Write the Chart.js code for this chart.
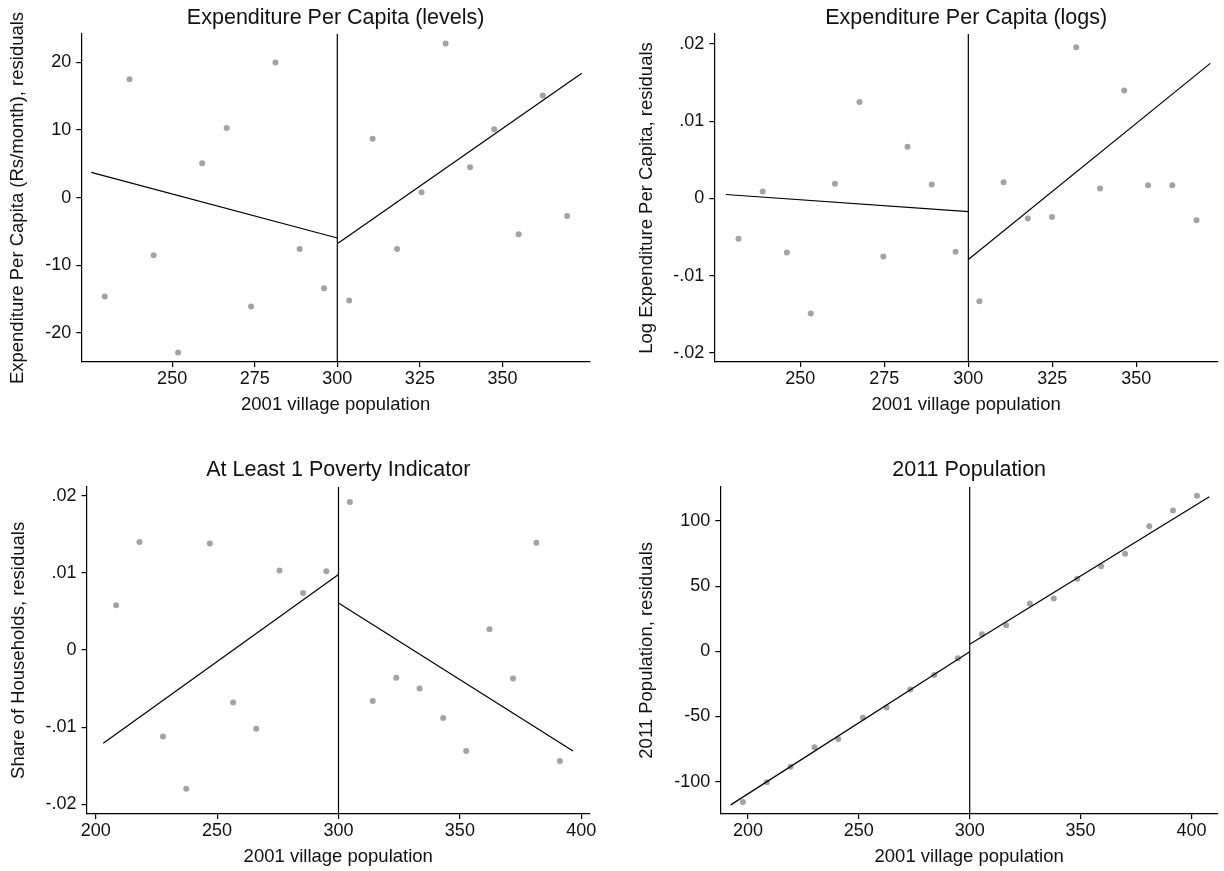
<!DOCTYPE html>
<html>
<head>
<meta charset="utf-8">
<title>RD residual plots</title>
<script src="https://cdn.jsdelivr.net/npm/chart.js@4.4.0/dist/chart.umd.min.js"></script>
<style>
  html, body { margin: 0; padding: 0; background: #fff; }
  #wrap { position: relative; width: 1224px; height: 871px; }
  #wrap canvas { position: absolute; }
</style>
</head>
<body>
<div id="wrap">
  <canvas id="c1" width="612" height="435" style="left:0;top:0"></canvas>
  <canvas id="c2" width="612" height="435" style="left:612px;top:0"></canvas>
  <canvas id="c3" width="612" height="436" style="left:0;top:435px"></canvas>
  <canvas id="c4" width="612" height="436" style="left:612px;top:435px"></canvas>
</div>
<script>
// cutoff of the discontinuity
const CUTOFF = 300;
const X_TITLE = '2001 village population';

// panel 1 - expenditure per capita (levels)
const p1X = [229.6, 237.1, 244.4, 251.8, 259.1, 266.5, 273.9, 281.3, 288.6, 296.0, 303.6, 310.7, 318.1, 325.5, 332.8, 340.2, 347.5, 354.9, 362.2, 369.6];
const p1Y = [-14.6, 17.5, -8.5, -22.9, 5.1, 10.3, -16.1, 20.0, -7.6, -13.4, -15.2, 8.7, -7.6, 0.8, 22.8, 4.5, 10.1, -5.4, 15.1, -2.7];
const p1FitLeftX = [225.5, 300];
const p1FitLeftY = [3.74, -5.96];
const p1FitRightX = [300, 374.0];
const p1FitRightY = [-6.8, 18.4];
const p1XTicks = [250, 275, 300, 325, 350];
const p1YTicks = [-20, -10, 0, 10, 20];
const p1YTickLabels = ['-20', '-10', '0', '10', '20'];
const p1XRange = [222.5, 376.5];
const p1YRange = [-24.3, 24.2];

// panel 2 - expenditure per capita (logs)
const p2X = [231.6, 238.8, 246.0, 253.1, 260.3, 267.6, 274.7, 281.9, 289.1, 296.2, 303.3, 310.5, 317.7, 324.9, 332.1, 339.2, 346.4, 353.5, 360.7, 367.9];
const p2Y = [-0.0052, 0.0009, -0.0070, -0.0149, 0.0019, 0.0125, -0.0075, 0.0067, 0.0018, -0.0069, -0.0133, 0.0021, -0.0026, -0.0024, 0.0196, 0.0013, 0.0140, 0.0017, 0.0017, -0.0028];
const p2FitLeftX = [227.8, 300];
const p2FitLeftY = [0.00052, -0.00169];
const p2FitRightX = [300, 372.0];
const p2FitRightY = [-0.0079, 0.0175];
const p2XTicks = [250, 275, 300, 325, 350];
const p2YTicks = [-0.02, -0.01, 0, 0.01, 0.02];
const p2YTickLabels = ['-.02', '-.01', '0', '.01', '.02'];
const p2XRange = [224.4, 374.3];
const p2YRange = [-0.02117, 0.0213];

// panel 3 - at least 1 poverty indicator
const p3X = [208.4, 218.0, 227.7, 237.3, 247.0, 256.6, 266.1, 275.7, 285.4, 295.0, 304.7, 314.1, 323.8, 333.4, 343.1, 352.6, 362.2, 371.9, 381.5, 391.2];
const p3Y = [0.0058, 0.0140, -0.0112, -0.0180, 0.0138, -0.0068, -0.0102, 0.0103, 0.0074, 0.0102, 0.0192, -0.0066, -0.0036, -0.0050, -0.0088, -0.0131, 0.0027, -0.0037, 0.0139, -0.0144];
const p3FitLeftX = [203.1, 300];
const p3FitLeftY = [-0.0121, 0.0098];
const p3FitRightX = [300, 396.6];
const p3FitRightY = [0.0061, -0.0131];
const p3XTicks = [200, 250, 300, 350, 400];
const p3YTicks = [-0.02, -0.01, 0, 0.01, 0.02];
const p3YTickLabels = ['-.02', '-.01', '0', '.01', '.02'];
const p3XRange = [196.2, 403.6];
const p3YRange = [-0.02126, 0.02117];

// panel 4 - 2011 population
const p4X = [197.7, 208.5, 219.2, 230.0, 240.7, 251.8, 262.5, 273.2, 284.0, 294.7, 305.5, 316.4, 327.1, 337.9, 348.5, 359.3, 370.1, 381.0, 391.7, 402.5];
const p4Y = [-115.5, -100.4, -88.6, -73.5, -67.3, -51.0, -43.0, -29.2, -18.2, -5.4, 13.1, 20.0, 36.6, 40.5, 55.6, 65.3, 74.8, 96.0, 108.1, 119.3];
const p4FitLeftX = [192.2, 300];
const p4FitLeftY = [-117.8, -0.3];
const p4FitRightX = [300, 408.1];
const p4FitRightY = [5.4, 118.6];
const p4XTicks = [200, 250, 300, 350, 400];
const p4YTicks = [-100, -50, 0, 50, 100];
const p4YTickLabels = ['-100', '-50', '0', '50', '100'];
const p4XRange = [187.5, 412.0];
const p4YRange = [-124.8, 126.3];

const FONT = "'Liberation Sans', Arial, sans-serif";
const INK = '#111';
const DOT = '#a3a3a3';

const pairs = (xs, ys) => xs.map((x, i) => ({ x: x, y: ys[i] }));

function lineSet(points) {
  return {
    data: points,
    showLine: true,
    pointRadius: 0,
    borderColor: '#000',
    borderWidth: 1.2,
    fill: false
  };
}

function makePanel(id, d, lay) {
  new Chart(document.getElementById(id), {
    type: 'scatter',
    data: {
      datasets: [
        lineSet(pairs(d.fitLX, d.fitLY)),
        lineSet(pairs(d.fitRX, d.fitRY)),
        lineSet([{ x: CUTOFF, y: d.yRange[0] }, { x: CUTOFF, y: d.yRange[1] }]),
        {
          data: pairs(d.xs, d.ys),
          pointRadius: 3,
          pointBackgroundColor: DOT,
          pointBorderWidth: 0,
          showLine: false
        }
      ]
    },
    options: {
      responsive: false,
      animation: false,
      devicePixelRatio: 1,
      layout: { padding: { left: 0, right: lay.padRight, top: 0, bottom: 0 } },
      plugins: {
        legend: { display: false },
        tooltip: { enabled: false },
        title: {
          display: true,
          text: d.title,
          fullSize: false,
          color: INK,
          font: { family: FONT, size: 21.5, weight: 'normal', lineHeight: 1.2 },
          padding: { top: lay.titleTop, bottom: lay.titleBottom }
        }
      },
      scales: {
        x: {
          type: 'linear',
          min: d.xRange[0],
          max: d.xRange[1],
          afterBuildTicks: s => { s.ticks = d.xTicks.map(v => ({ value: v })); },
          afterFit: s => { s.height = lay.xHeight; },
          ticks: {
            color: INK,
            font: { family: FONT, size: 18, lineHeight: 1.2 },
            padding: 1.2,
            maxRotation: 0,
            autoSkip: false,
            callback: v => String(v)
          },
          grid: { display: true, drawOnChartArea: false, drawTicks: true, tickLength: 5, color: '#000', lineWidth: 1.2 },
          border: { display: true, color: '#000', width: 1.2 },
          title: {
            display: true,
            text: X_TITLE,
            color: INK,
            font: { family: FONT, size: 18.5, lineHeight: 1.2 },
            padding: { top: 0, bottom: lay.xTitleBottom }
          }
        },
        y: {
          type: 'linear',
          min: d.yRange[0],
          max: d.yRange[1],
          afterBuildTicks: s => { s.ticks = d.yTicks.map(v => ({ value: v })); },
          afterFit: s => { s.width = lay.yWidth; },
          ticks: {
            color: INK,
            font: { family: FONT, size: 18, lineHeight: 1.2 },
            padding: 5,
            autoSkip: false,
            callback: (v, i) => d.yLabels[i]
          },
          grid: { display: true, drawOnChartArea: false, drawTicks: true, tickLength: 5, color: '#000', lineWidth: 1.2 },
          border: { display: true, color: '#000', width: 1.2 },
          title: {
            display: true,
            text: d.yTitle,
            color: INK,
            font: { family: FONT, size: 18.5, lineHeight: 1.2 },
            padding: { top: lay.yTitleTop, bottom: 0 }
          }
        }
      }
    }
  });
}

makePanel('c1', {
  title: 'Expenditure Per Capita (levels)',
  yTitle: 'Expenditure Per Capita (Rs/month), residuals',
  xs: p1X, ys: p1Y,
  fitLX: p1FitLeftX, fitLY: p1FitLeftY, fitRX: p1FitRightX, fitRY: p1FitRightY,
  xTicks: p1XTicks, yTicks: p1YTicks, yLabels: p1YTickLabels,
  xRange: p1XRange, yRange: p1YRange
}, { padRight: 22, titleTop: 5.1, titleBottom: 3.1, xHeight: 73, yWidth: 81.3, xTitleBottom: 18.9, yTitleTop: 6.9 });

makePanel('c2', {
  title: 'Expenditure Per Capita (logs)',
  yTitle: 'Log Expenditure Per Capita, residuals',
  xs: p2X, ys: p2Y,
  fitLX: p2FitLeftX, fitLY: p2FitLeftY, fitRX: p2FitRightX, fitRY: p2FitRightY,
  xTicks: p2XTicks, yTicks: p2YTicks, yLabels: p2YTickLabels,
  xRange: p2XRange, yRange: p2YRange
}, { padRight: 6, titleTop: 5.1, titleBottom: 3.1, xHeight: 73, yWidth: 102.3, xTitleBottom: 18.9, yTitleTop: 23.9 });

makePanel('c3', {
  title: 'At Least 1 Poverty Indicator',
  yTitle: 'Share of Households, residuals',
  xs: p3X, ys: p3Y,
  fitLX: p3FitLeftX, fitLY: p3FitLeftY, fitRX: p3FitRightX, fitRY: p3FitRightY,
  xTicks: p3XTicks, yTicks: p3YTicks, yLabels: p3YTickLabels,
  xRange: p3XRange, yRange: p3YRange
}, { padRight: 22, titleTop: 22.1, titleBottom: 3.8, xHeight: 57, yWidth: 86.5, xTitleBottom: 3.2, yTitleTop: 7.4 });

makePanel('c4', {
  title: '2011 Population',
  yTitle: '2011 Population, residuals',
  xs: p4X, ys: p4Y,
  fitLX: p4FitLeftX, fitLY: p4FitLeftY, fitRX: p4FitRightX, fitRY: p4FitRightY,
  xTicks: p4XTicks, yTicks: p4YTicks, yLabels: p4YTickLabels,
  xRange: p4XRange, yRange: p4YRange
}, { padRight: 6, titleTop: 22.1, titleBottom: 3.8, xHeight: 57, yWidth: 108.3, xTitleBottom: 3.2, yTitleTop: 23.9 });
</script>
</body>
</html>
